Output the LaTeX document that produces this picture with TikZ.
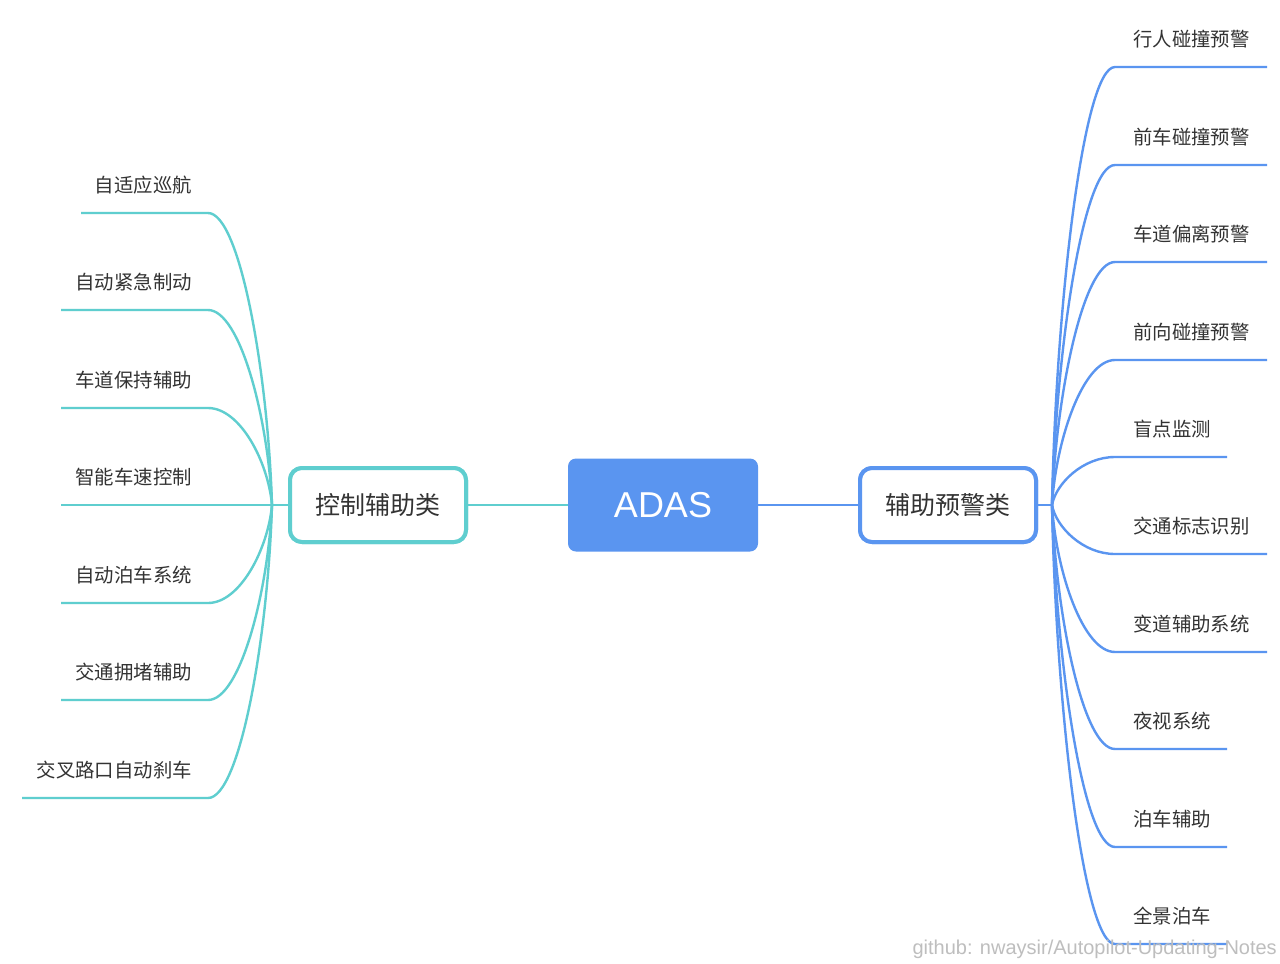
\documentclass[tikz,border=0pt]{standalone}
\usepackage{fontspec}
\setmainfont{Noto Sans CJK SC}
\newfontfamily\latinsans{Liberation Sans}
\definecolor{mmteal}{RGB}{95,206,207}
\definecolor{mmblue}{RGB}{90,149,240}
\definecolor{txtgray}{RGB}{51,51,51}
\definecolor{wmgray}{RGB}{190,190,190}
\begin{document}
\begin{tikzpicture}[x=1pt,y=-1pt,
  lbl/.style={font=\fontsize{19.4}{21}\selectfont, text=txtgray, inner sep=0pt},
  catbox/.style={rectangle, rounded corners=12pt, fill=white, line width=4pt,
    minimum width=176pt, minimum height=74pt, inner sep=0pt,
    font=\fontsize{25}{28}\selectfont, text=txtgray},
  rootbox/.style={rectangle, rounded corners=8pt, fill=mmblue, draw=none,
    minimum width=190pt, minimum height=93pt, inner sep=0pt,
    font=\latinsans\fontsize{36}{40}\selectfont, text=white},
  tline/.style={draw=mmteal, line width=2.4pt},
  bline/.style={draw=mmblue, line width=2.4pt},
  linkline/.style={line width=2pt}
]
\useasboundingbox (0,0) rectangle (1280,964);
\fill[white] (0,0) rectangle (1280,964);

% hubs
\coordinate (hubL) at (272,505);
\coordinate (hubR) at (1052,505);

% left branches
\foreach \y/\lx/\t [count=\i] in {213/81/自适应巡航, 310/61/自动紧急制动, 408/61/车道保持辅助, 505/61/智能车速控制, 603/61/自动泊车系统, 700/61/交通拥堵辅助, 798/22/交叉路口自动刹车}{
  \coordinate (La\i) at (\lx,\y);
  \coordinate (Lb\i) at (208,\y);
  \node[lbl, anchor=east] (Lt\i) at (192,\y-28) {\t};
  \draw[tline] (La\i) -- (Lb\i) .. controls (240,\y) and (268,{\y+0.55*(505-\y)}) .. (hubL);
}

% right branches
\foreach \y/\rx/\t [count=\i] in {67/1267/行人碰撞预警, 165/1267/前车碰撞预警, 262/1267/车道偏离预警, 360/1267/前向碰撞预警, 457/1227/盲点监测, 554/1267/交通标志识别, 652/1267/变道辅助系统, 749/1227/夜视系统, 847/1227/泊车辅助, 944/1227/全景泊车}{
  \coordinate (Ra\i) at (\rx,\y);
  \coordinate (Rb\i) at (1115,\y);
  \node[lbl, anchor=west] (Rt\i) at (1133,\y-28) {\t};
  \draw[bline] (Ra\i) -- (Rb\i) .. controls (1083,\y) and (1056,{\y+0.55*(505-\y)}) .. (hubR);
}

% main nodes
\node[rootbox] (adas) at (663,505) {ADAS};
\node[catbox, draw=mmteal] (ctrl) at (378,505) {控制辅助类};
\node[catbox, draw=mmblue] (warn) at (948,505) {辅助预警类};

\draw[tline] (ctrl.west) -- (hubL);
\draw[bline] (warn.east) -- (hubR);
\draw[draw=mmteal, linkline] (ctrl.east) -- (adas.west);
\draw[draw=mmblue, linkline] (adas.east) -- (warn.west);

% redraw node borders above connectors
\node[catbox, draw=mmteal] at (ctrl) {控制辅助类};
\node[catbox, draw=mmblue] at (warn) {辅助预警类};

% watermark
\node[font=\latinsans\fontsize{20}{22}\selectfont, text=wmgray, anchor=east, inner sep=0pt] (wm) at (1277,949) {github: nwaysir/Autopilot-Updating-Notes};
\end{tikzpicture}
\end{document}
